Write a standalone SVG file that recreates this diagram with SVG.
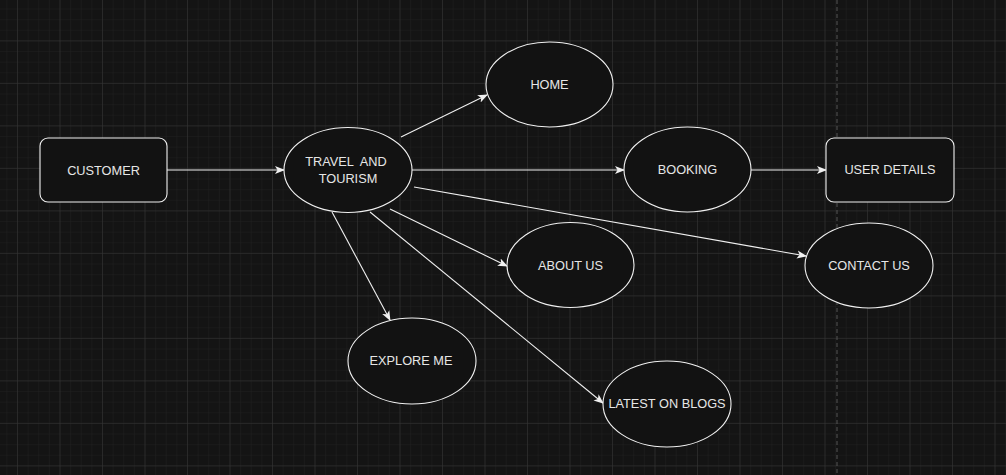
<svg xmlns="http://www.w3.org/2000/svg" width="1006" height="475" viewBox="0 0 1006 475">
<defs>
<pattern id="minor" x="17" y="-2.1" width="10.625" height="10.625" patternUnits="userSpaceOnUse">
<path d="M0 0V10.625M0 0H10.625" fill="none" stroke="#202020" stroke-width="1"/>
</pattern>
<pattern id="major" x="17" y="-2.1" width="42.5" height="42.5" patternUnits="userSpaceOnUse">
<path d="M0 0V42.5M0 0H42.5" fill="none" stroke="#363636" stroke-width="1"/>
</pattern>
<marker id="arr" viewBox="0 0 10 10" refX="9" refY="5" markerWidth="10" markerHeight="10" markerUnits="userSpaceOnUse" orient="auto">
<path d="M0 1 L10 5 L0 9 L2.5 5 Z" fill="#f0f0f0"/>
</marker>
<style>
.n{fill:#121212;stroke:#f0f0f0;stroke-width:1.1}
.t{font-family:"Liberation Sans",Arial,sans-serif;font-size:12.75px;fill:#e6e6e6;text-anchor:middle;dominant-baseline:central;white-space:pre}
.e{fill:none;stroke:#f0f0f0;stroke-width:1.1;marker-end:url(#arr)}
</style>
</defs>
<rect width="1006" height="475" fill="#141414"/>
<rect width="1006" height="475" fill="url(#minor)"/>
<rect width="1006" height="475" fill="url(#major)"/>
<line x1="837" y1="0" x2="837" y2="475" stroke="#555" stroke-width="1" stroke-dasharray="4 3"/>
<g id="connectors">
<line class="e" x1="167" y1="170" x2="284" y2="170"/>
<line class="e" x1="401" y1="137" x2="487" y2="95"/>
<line class="e" x1="412" y1="170" x2="624" y2="170"/>
<line class="e" x1="751" y1="170" x2="826" y2="170"/>
<line class="e" x1="414" y1="187" x2="806" y2="256"/>
<line class="e" x1="390" y1="209" x2="507" y2="266"/>
<line class="e" x1="332" y1="212" x2="390" y2="320"/>
<line class="e" x1="370" y1="212" x2="603" y2="403"/>
</g>
<g id="customer"><rect class="n" x="40" y="138" width="127" height="64" rx="8"/><text class="t" x="103.5" y="170">CUSTOMER</text></g>
<g id="travel"><ellipse class="n" cx="348" cy="170" rx="64" ry="42.5"/><text class="t" x="346" y="161">TRAVEL  AND</text><text class="t" x="348" y="178">TOURISM</text></g>
<g id="home"><ellipse class="n" cx="549.5" cy="84.5" rx="63.5" ry="42.5"/><text class="t" x="549.5" y="84.5">HOME</text></g>
<g id="booking"><ellipse class="n" cx="687.5" cy="169.5" rx="63.5" ry="42.5"/><text class="t" x="687.5" y="169.5">BOOKING</text></g>
<g id="userdetails"><rect class="n" x="826" y="138" width="128" height="64" rx="8"/><text class="t" x="890" y="169.5">USER DETAILS</text></g>
<g id="contact"><ellipse class="n" cx="869" cy="265.5" rx="64" ry="42.5"/><text class="t" x="869" y="265.5">CONTACT US</text></g>
<g id="about"><ellipse class="n" cx="570.5" cy="265" rx="63.5" ry="42.5"/><text class="t" x="570.5" y="265">ABOUT US</text></g>
<g id="explore"><ellipse class="n" cx="412" cy="361" rx="64" ry="43"/><text class="t" x="411" y="360">EXPLORE ME</text></g>
<g id="latest"><ellipse class="n" cx="667" cy="404" rx="64" ry="43"/><text class="t" x="667" y="403">LATEST ON BLOGS</text></g>
</svg>
